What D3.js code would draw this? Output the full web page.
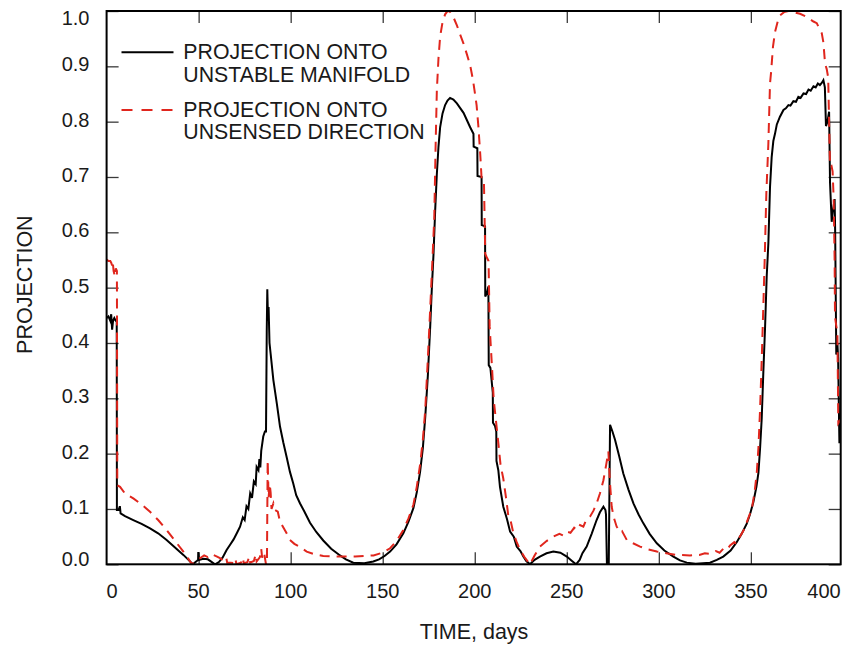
<!DOCTYPE html>
<html><head><meta charset="utf-8">
<script src="https://cdn.jsdelivr.net/npm/d3@7"></script>
<style>
body{margin:0;background:#fff}
svg{display:block}
text{font-family:"Liberation Sans",Arial,Helvetica,sans-serif;fill:#1a1a1a}
</style>
</head><body>
<svg id="chart" width="847" height="648"></svg>
<script>
// ---------------- data ----------------
const xTicks = [0, 50, 100, 150, 200, 250, 300, 350, 400];
const yTicks = [0, 0.1, 0.2, 0.3, 0.4, 0.5, 0.6, 0.7, 0.8, 0.9, 1.0];
const xTitle = "TIME, days";
const yTitle = "PROJECTION";
const legendLabels = [
  ["PROJECTION ONTO", "UNSTABLE MANIFOLD"],
  ["PROJECTION ONTO", "UNSENSED DIRECTION"]
];
// [time (days), projection]
const manifold = [
  [0,0.445],[1,0.448],[2,0.44],[2.5,0.452],[3,0.424],[3.5,0.44],[4.2,0.445],[5,0.44],[5.5,0.44],
  [5.6,0.098],[6.5,0.098],[7.2,0.105],[7.6,0.092],[10,0.087],[14.5,0.080],[19,0.073],[23.6,0.065],
  [28,0.056],[32.6,0.044],[37,0.031],[41.7,0.017],[44.5,0.008],[46.8,0.0],[49,0.006],[49.7,0.008],
  [49.8,0.022],[50.2,0.008],[52.5,0.010],[55,0.009],[58.9,0.0],[61,0.004],[63,0.012],[65.2,0.026],
  [67,0.035],[69,0.045],[71,0.058],[72.5,0.068],[74,0.085],[75,0.080],[76,0.105],[77,0.100],
  [78,0.128],[79,0.120],[80,0.150],[81,0.145],[81.5,0.176],[82.5,0.17],[83,0.19],[83.5,0.175],
  [84,0.205],[85.1,0.231],[86,0.24],[86.6,0.24],[87.0,0.42],[87.3,0.497],[87.7,0.44],[88.0,0.465],
  [88.5,0.40],[89.1,0.381],[90.6,0.333],[92.5,0.29],[94.2,0.249],[96,0.22],[97.8,0.194],[99.6,0.167],
  [101.4,0.146],[103,0.125],[105.1,0.110],[107.5,0.095],[110.5,0.075],[114,0.058],[117.7,0.043],
  [122,0.028],[126.8,0.016],[130,0.009],[134,0.003],[140,0.002],[144.9,0.005],[148,0.009],[151,0.015],
  [154,0.023],[157.5,0.036],[161.2,0.056],[164,0.077],[166.7,0.102],[168.5,0.130],[170.3,0.167],
  [171.8,0.21],[173.1,0.266],[174.5,0.34],[175.8,0.430],[176.7,0.50],[177.6,0.561],[178.5,0.64],
  [179.4,0.705],[180.3,0.755],[181.2,0.790],[182.5,0.815],[183.9,0.830],[185.2,0.838],[186.6,0.843],
  [188.4,0.840],[190.3,0.833],[192,0.825],[193.9,0.816],[195.7,0.803],[197.5,0.790],[199.3,0.778],
  [199.4,0.755],[201.4,0.752],[201.5,0.702],[203.7,0.700],[203.8,0.613],[205.6,0.611],[205.7,0.484],
  [206.6,0.49],[207.4,0.502],[207.6,0.36],[208.5,0.355],[209.8,0.31],[209.9,0.256],[211.0,0.25],
  [211.7,0.24],[211.8,0.187],[212.8,0.17],[213.7,0.14],[215.5,0.104],[217.5,0.082],[219.2,0.059],
  [221.2,0.050],[222.8,0.032],[224.8,0.024],[226.4,0.014],[228,0.006],[230,0.0],[232.5,0.008],
  [235.4,0.014],[239,0.020],[242.7,0.023],[246.5,0.021],[250,0.014],[252.5,0.007],[255,0.0],
  [257,0.008],[258.5,0.020],[260.8,0.032],[263.5,0.055],[266.2,0.080],[268,0.094],[269.9,0.104],
  [271.0,0.098],[271.3,0.09],[271.8,0.0],[272.8,0.0],[273.5,0.252],[274.8,0.24],[276.2,0.225],
  [278.5,0.195],[280.7,0.164],[283.5,0.135],[286.2,0.110],[289,0.090],[291.6,0.074],[295,0.055],
  [298.9,0.038],[303,0.025],[307.9,0.014],[311.5,0.007],[315.2,0.003],[320,0.001],[327.8,0.003],
  [331.5,0.008],[335,0.014],[339,0.025],[342.3,0.040],[345,0.055],[347.7,0.073],[349.5,0.09],
  [351.4,0.113],[353,0.14],[354.1,0.165],[355,0.21],[355.9,0.264],[356.8,0.35],[357.7,0.427],
  [358.6,0.52],[359.5,0.58],[360.4,0.682],[361.3,0.736],[362.2,0.765],[363.1,0.778],[364.1,0.795],
  [365.8,0.809],[367.7,0.821],[369,0.824],[370.4,0.830],[371.5,0.829],[373.1,0.837],[374.5,0.836],
  [375.8,0.845],[377,0.843],[378.6,0.851],[380,0.850],[381.3,0.858],[382.5,0.856],[384.0,0.864],
  [385.2,0.862],[386.4,0.869],[387.5,0.866],[388.5,0.870],[389.4,0.875],[390.2,0.862],[390.8,0.792],
  [391.6,0.800],[392.5,0.818],[393.0,0.69],[393.9,0.619],[394.6,0.64],[395.5,0.66],[395.8,0.60],
  [396.4,0.379],[397.0,0.40],[397.4,0.372],[398.1,0.219],[398.8,0.254]
];
const unsensed = [
  [0,0.551],[1,0.548],[2,0.548],[2.5,0.545],[3.0,0.540],[3.3,0.548],[3.8,0.53],[4.5,0.52],[5.0,0.535],
  [5.6,0.53],[5.8,0.143],[7.3,0.140],[10,0.128],[14.5,0.119],[19,0.108],[23.6,0.095],[28,0.080],
  [32.6,0.062],[37,0.043],[41.7,0.023],[44,0.012],[46.4,0.0],[48.5,0.006],[50.7,0.011],[53,0.016],
  [55,0.013],[56.5,0.018],[58,0.017],[60,0.014],[61.6,0.011],[64,0.006],[65,0.012],[65.5,0.003],
  [67.4,0.003],[69,0.002],[70,0.01],[70.5,0.0],[73,0.003],[74,0.012],[74.5,0.002],[76.5,0.004],
  [77.5,0.014],[78,0.003],[80,0.006],[81,0.018],[81.5,0.005],[83.3,0.013],[84,0.028],[84.5,0.012],
  [85.5,0.022],[86.6,0.0],[87.1,0.0],[87.5,0.188],[88.0,0.12],[88.6,0.145],[89.1,0.13],[89.6,0.10],
  [90.6,0.110],[91.5,0.098],[93,0.095],[94,0.08],[95.1,0.072],[97.8,0.056],[99.6,0.044],[102,0.037],
  [104.7,0.032],[108.7,0.023],[113,0.018],[117.7,0.015],[125,0.014],[135,0.014],[145,0.016],
  [150,0.021],[154,0.029],[157.5,0.042],[161.2,0.062],[164,0.083],[166.7,0.108],[168.5,0.14],
  [170.3,0.180],[171.8,0.225],[173.1,0.279],[174.5,0.37],[175.8,0.462],[177,0.55],[178.0,0.626],
  [178.7,0.75],[179.4,0.856],[180.3,0.915],[181.2,0.954],[182.5,0.980],[183.9,0.994],[185,0.999],
  [186.2,1.0],[188,0.992],[190.3,0.974],[192,0.958],[193.9,0.941],[195.7,0.922],[197.5,0.902],
  [199,0.876],[200.2,0.849],[201,0.83],[202.0,0.790],[203,0.74],[203.8,0.692],[205.0,0.69],
  [205.7,0.561],[206.5,0.555],[207.5,0.548],[208.1,0.43],[209.3,0.36],[210.3,0.298],[211.5,0.26],
  [213.0,0.213],[214,0.18],[215.5,0.155],[217,0.12],[218.3,0.086],[219.4,0.080],[221.0,0.056],
  [222.8,0.04],[224.6,0.026],[227,0.013],[230.0,0.0],[232.5,0.016],[235.4,0.032],[239,0.042],
  [242.7,0.050],[246,0.055],[248,0.052],[250.0,0.059],[252,0.057],[254,0.066],[255.5,0.062],
  [257.2,0.071],[259,0.068],[260.5,0.080],[262.6,0.086],[264.5,0.097],[266.2,0.110],[268,0.128],
  [269.9,0.152],[271.3,0.178],[272.6,0.204],[273.4,0.15],[274.4,0.104],[275.5,0.085],[277.1,0.068],
  [279,0.058],[280,0.060],[282.6,0.044],[286,0.038],[289.8,0.032],[294,0.027],[298.9,0.023],
  [304,0.020],[309.7,0.017],[316.9,0.016],[322,0.017],[325,0.02],[327.8,0.019],[331,0.024],
  [333,0.021],[335,0.028],[337,0.026],[338.7,0.034],[341,0.04],[342,0.037],[344,0.05],[346.0,0.061],
  [348,0.078],[350.5,0.100],[352,0.13],[353.2,0.165],[354.1,0.21],[355.0,0.28],[355.9,0.37],
  [356.8,0.47],[357.5,0.55],[358.4,0.67],[359.5,0.76],[360.4,0.869],[361.0,0.89],[362,0.935],
  [363.1,0.962],[364.5,0.98],[365.8,0.992],[368,0.998],[370.4,1.0],[373,0.998],[376.7,0.995],
  [380,0.99],[384.0,0.981],[385.8,0.978],[387.6,0.965],[388.5,0.960],[389.4,0.943],[390.3,0.905],
  [391.2,0.895],[392.0,0.88],[392.5,0.80],[393.0,0.719],[393.8,0.72],[394.4,0.71],[395.0,0.66],
  [395.5,0.55],[395.7,0.447],[396.4,0.431],[397.0,0.42],[397.5,0.255],[398.8,0.262]
];

// ---------------- layout ----------------
const plot = {left:106.6, right:840.7, top:11, bottom:564.3};
const xMax = 398.8;
const red = "#e0261d";
const svg = d3.select("#chart");
const x = d3.scaleLinear().domain([0, xMax]).range([plot.left, plot.right]);
const y = d3.scaleLinear().domain([0, 1]).range([plot.bottom, plot.top]);

// ticks (inward on all four sides)
const inX = xTicks.filter(v => v > 0 && v < xMax);
const tickStyle = g => { g.select(".domain").remove(); g.selectAll("line").attr("stroke","#3a3a3a").attr("stroke-width",1.3); };
svg.append("g").attr("transform",`translate(0,${plot.bottom})`)
  .call(d3.axisBottom(x).tickValues(inX).tickSize(-12).tickFormat("")).call(tickStyle);
svg.append("g").attr("transform",`translate(0,${plot.top})`)
  .call(d3.axisTop(x).tickValues(inX).tickSize(-12).tickFormat("")).call(tickStyle);
svg.append("g").attr("transform",`translate(${plot.left},0)`)
  .call(d3.axisLeft(y).tickValues(yTicks).tickSize(-12).tickFormat("")).call(tickStyle);
svg.append("g").attr("transform",`translate(${plot.right},0)`)
  .call(d3.axisRight(y).tickValues(yTicks).tickSize(-12).tickFormat("")).call(tickStyle);

// x tick labels (end labels kept inside the frame)
svg.append("g").selectAll("text").data(xTicks).join("text")
  .attr("x", (d,i) => i === 0 ? plot.left : (i === xTicks.length-1 ? plot.right : x(d)))
  .attr("y", 597.7)
  .attr("text-anchor", (d,i) => i === 0 ? "start" : (i === xTicks.length-1 ? "end" : "middle"))
  .attr("font-size", 20)
  .text(d => d);

// y tick labels
svg.append("g").selectAll("text").data(yTicks).join("text")
  .attr("x", 89.5)
  .attr("y", d => Math.min(Math.max(y(d) + 5, plot.top + 14.3), plot.bottom + 1.7))
  .attr("text-anchor", "end")
  .attr("font-size", 20)
  .text(d => d3.format(".1f")(d));

// axis titles
svg.append("text").attr("x", 474).attr("y", 639)
  .attr("text-anchor","middle").attr("font-size",21.5).text(xTitle);
svg.append("text").attr("transform",`translate(31.5,${(plot.top+plot.bottom)/2 - 3}) rotate(-90)`)
  .attr("text-anchor","middle").attr("font-size",21.5).text(yTitle);

// curves
svg.append("clipPath").attr("id","clip").append("rect")
  .attr("x",plot.left).attr("y",plot.top-1).attr("width",plot.right-plot.left).attr("height",plot.bottom-plot.top+1);
const line = d3.line().x(d => x(d[0])).y(d => y(d[1]));
const curves = svg.append("g").attr("clip-path","url(#clip)");
curves.append("path").datum(manifold).attr("d",line)
  .attr("fill","none").attr("stroke","#000").attr("stroke-width",2).attr("stroke-linejoin","miter");
curves.append("path").datum(unsensed).attr("d",line)
  .attr("fill","none").attr("stroke",red).attr("stroke-width",2).attr("stroke-dasharray","10,7");

// frame
svg.append("rect").attr("x",plot.left).attr("y",plot.top)
  .attr("width",plot.right-plot.left).attr("height",plot.bottom-plot.top)
  .attr("fill","none").attr("stroke","#000").attr("stroke-width",2);

// legend
const legendStyles = [{stroke:"#000", dash:null, y:52.3}, {stroke:red, dash:"11,9", y:110}];
const leg = svg.append("g");
legendLabels.forEach((lines, i) => {
  const s = legendStyles[i];
  leg.append("line").attr("x1",121.5).attr("x2",173.5).attr("y1",s.y).attr("y2",s.y)
    .attr("stroke",s.stroke).attr("stroke-width",2).attr("stroke-dasharray",s.dash);
  lines.forEach((t, j) => {
    leg.append("text").attr("x",183.3).attr("y",s.y + 7 + j*22.4)
      .attr("font-size",21.3).text(t);
  });
});
</script>
</body></html>
